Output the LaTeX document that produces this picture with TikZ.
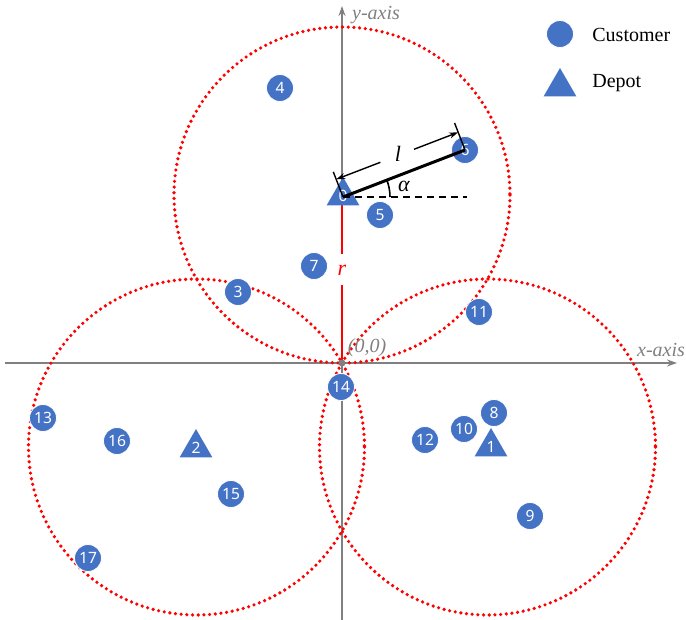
\documentclass[tikz,border=0pt]{standalone}
\usepackage{fontspec}
\setmainfont{Liberation Serif}
\newfontfamily\numfont{Noto Sans}
\usetikzlibrary{shapes.geometric,arrows.meta}
\definecolor{cblue}{HTML}{4472C4}
\definecolor{axgray}{HTML}{808080}
\begin{document}
\begin{tikzpicture}[x=0.5pt,y=-0.5pt,
  axisline/.style={axgray, line width=0.8pt, -{Stealth[length=5pt,width=3.5pt]}},
  axislabel/.style={axgray, font=\itshape\fontsize{10}{12}\selectfont, inner sep=0pt},
  zone/.style={red, line width=1.8pt, line cap=round, dash pattern=on 0pt off 2.85pt},
  cust/.style={circle, fill=cblue, draw=white, line width=0.4pt, minimum size=13.5pt, inner sep=0pt,
    text=white, font=\numfont\fontsize{7.8}{8}\selectfont},
  depot/.style={regular polygon, regular polygon sides=3, fill=cblue, minimum size=19pt, inner sep=0pt,
    text=white, font=\numfont\fontsize{7.8}{8}\selectfont},
  legtext/.style={font=\fontsize{10}{12}\selectfont, anchor=west, inner sep=0pt},
  dimline/.style={black, line width=0.7pt, -{Stealth[length=4.5pt,width=3pt]}},
  ticks/.style={black, line width=0.7pt},
  mathlab/.style={font=\itshape\fontsize{11}{12}\selectfont, inner sep=0pt}
]
\useasboundingbox (0,0) rectangle (686,620);
% axes
\coordinate (xs) at (5,363);
\coordinate (xe) at (677,363);
\coordinate (ys) at (342,620);
\coordinate (ye) at (342,6);
\draw[axisline] (xs) -- (xe);
\draw[axisline] (ys) -- (ye);
\node[axislabel] (xlab) at (661,350) {x-axis};
\node[axislabel] (ylab) at (376,15) {y-axis};
% zones
\coordinate (z0) at (342,195);
\coordinate (z1) at (487.5,447);
\coordinate (z2) at (196.5,447);
\draw[zone] (z0) circle[radius=168];
\draw[zone] (z1) circle[radius=168];
\draw[zone] (z2) circle[radius=168];
% origin and r
\coordinate (O) at (342,363);
\coordinate (A) at (342,198);
\draw[red, line width=1pt, -{Stealth[length=3pt,width=3pt]}] (O) -- (A);
\node[fill=white, text=red, mathlab, minimum height=15.5pt, minimum width=7pt] (rlab) at (342,270) {r};
\fill[axgray] (O) circle[radius=3.5];
\node[axislabel] (olab) at (367,348) {(0,0)};
% customers
\node[cust] (c4) at (280,88) {4};
\node[cust] (c6) at (465,150) {6};
\node[cust] (c5) at (380,215) {5};
\node[cust] (c7) at (314,266) {7};
\node[cust] (c3) at (238,292) {3};
\node[cust] (c11) at (479,312) {11};
\node[cust] (c14) at (341,387) {14};
\node[cust] (c13) at (43,418) {13};
\node[cust] (c16) at (117,441) {16};
\node[cust] (c15) at (231,494) {15};
\node[cust] (c17) at (88,558) {17};
\node[cust] (c12) at (425,440) {12};
\node[cust] (c10) at (464,429) {10};
\node[cust] (c8) at (494,413) {8};
\node[cust] (c9) at (530,516) {9};
% depots
\node[depot] (d0) at (343,196) {0};
\node[depot] (d2) at (196,448) {2};
\node[depot] (d1) at (491,447) {1};
% angle construction
\coordinate (P) at (343,197);
\coordinate (Q) at (467,197);
\draw[black, line width=1.1pt, dash pattern=on 3.5pt off 2.5pt] (P) -- (Q);
\draw[black, line width=1.5pt] (P) -- (c6.center);
\coordinate (Pt) at (333.3,171.8);
\coordinate (Bt) at (454.6,123);
\draw[ticks] (P) -- (Pt);
\draw[ticks] (c6.center) -- (Bt);
\coordinate (Ad) at (336.2,179.3);
\coordinate (Bd) at (458.2,132.3);
\coordinate (G1) at (380.4,162.3);
\coordinate (G2) at (414.0,149.3);
\draw[dimline] (G1) -- (Ad);
\draw[dimline] (G2) -- (Bd);
\node[mathlab] (llab) at (398,154) {l};
\draw[black, line width=0.8pt] (390,197) arc[start angle=0, end angle=-21, radius=47];
\node[mathlab] (alab) at (404,186) {α};
% legend
\node[cust] (lc) at (560,34) {};
\node[legtext] (lct) at (592,35) {Customer};
\node[depot] (ld) at (560,87) {};
\node[legtext] (ldt) at (592,83) {Depot};
\end{tikzpicture}
\end{document}
